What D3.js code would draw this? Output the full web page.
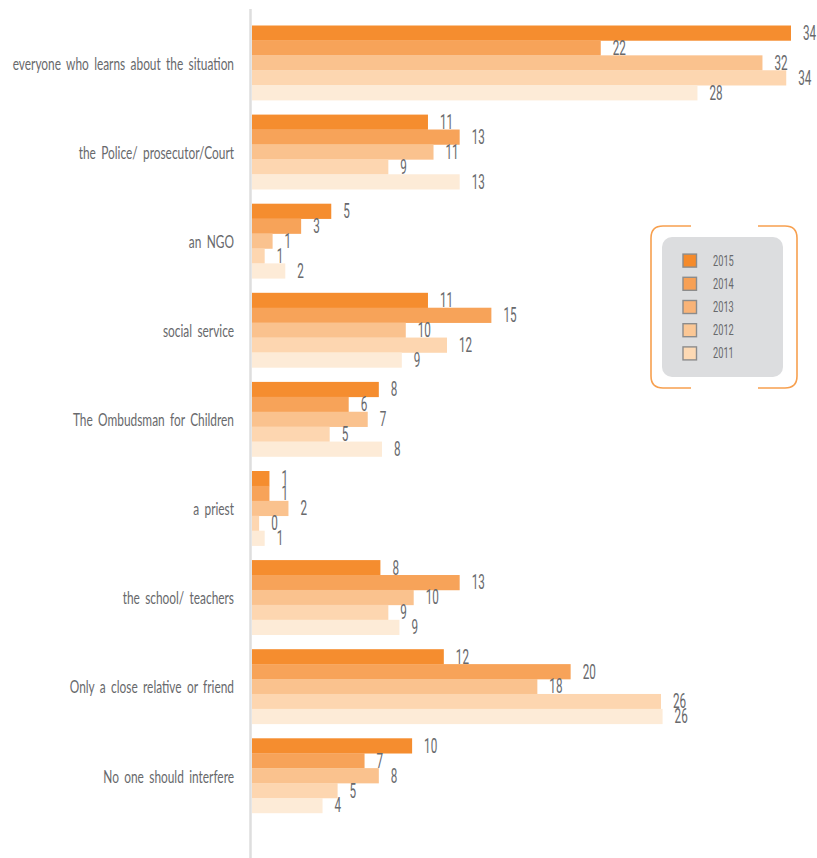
<!DOCTYPE html>
<html>
<head>
<meta charset="utf-8">
<script src="https://cdn.jsdelivr.net/npm/d3@7"></script>
<style>
  html, body { margin: 0; padding: 0; background: #fff; }
  svg { display: block; }
</style>
</head>
<body>
<svg id="chart" width="817" height="858"></svg>
<script>
const categories = [
  "everyone who learns about the situation",
  "the Police/ prosecutor/Court",
  "an NGO",
  "social service",
  "The Ombudsman for Children",
  "a priest",
  "the school/ teachers",
  "Only a close relative or friend",
  "No one should interfere"
];
const years = ["2015", "2014", "2013", "2012", "2011"];
const values2015 = [34.0, 11.1, 5.0, 11.1, 8.0, 1.1, 8.1, 12.1, 10.1];
const values2014 = [22.0, 13.1, 3.1, 15.1, 6.1, 1.1, 13.1, 20.1, 7.1];
const values2013 = [32.2, 11.45, 1.3, 9.7, 7.3, 2.3, 10.2, 18.0, 8.0];
const values2012 = [33.7, 8.6, 0.8, 12.3, 4.9, 0.45, 8.6, 25.8, 5.4];
const values2011 = [28.1, 13.1, 2.1, 9.45, 8.2, 0.8, 9.3, 25.9, 4.45];
const seriesValues = [values2015, values2014, values2013, values2012, values2011];
const barColors = ["#f58d2f", "#f7a359", "#fac28e", "#fdd6b0", "#fdebd7"];
const legendColors = ["#f58a2a", "#f7a055", "#f9b377", "#fbc795", "#fdd9b4"];

const svg = d3.select("#chart");
const textColor = "#68696c";

const x = d3.scaleLinear().domain([0, 34]).range([252, 791]);
const y = d3.scaleBand().domain(categories).range([25.5, 812.9]).paddingInner(0.1627).paddingOuter(0);
const yInner = d3.scaleBand().domain(years).range([0, y.bandwidth()]).padding(0);
const color = d3.scaleOrdinal().domain(years).range(barColors);
const fmt = d3.format(".0f");

const rows = [];
categories.forEach((c, i) => {
  years.forEach((yr, j) => {
    rows.push({ cat: c, year: yr, value: seriesValues[j][i] });
  });
});

// bars
svg.append("g").selectAll("rect").data(rows).join("rect")
  .attr("x", x(0))
  .attr("y", d => y(d.cat) + yInner(d.year))
  .attr("width", d => x(d.value) - x(0))
  .attr("height", yInner.bandwidth() + 0.3)
  .attr("fill", d => color(d.year));

// axis line
svg.append("line")
  .attr("x1", 250.5).attr("x2", 250.5)
  .attr("y1", 9).attr("y2", 858)
  .attr("stroke", "#dedede").attr("stroke-width", 2.5);

// value labels
svg.append("g").selectAll("text").data(rows).join("text")
  .attr("transform", d => `translate(${x(d.value) + 12},${y(d.cat) + yInner(d.year) + yInner.bandwidth() / 2 + 7}) scale(0.6,1)`)
  .attr("font-family", "Roboto, 'Open Sans', sans-serif")
  .attr("font-size", 19.5)
  .attr("fill", textColor)
  .text(d => fmt(d.value));

// category labels
svg.append("g").selectAll("text").data(categories).join("text")
  .attr("transform", d => `translate(234,${y(d) + y.bandwidth() / 2 + 7}) scale(0.66,1)`)
  .attr("text-anchor", "end")
  .attr("font-family", "Lato, 'Open Sans', sans-serif")
  .attr("font-size", 18)
  .attr("word-spacing", 3.5)
  .attr("fill", textColor)
  .text(d => d);

// legend
const lg = svg.append("g");
const bx0 = 651, bx1 = 797, by0 = 226, by1 = 388, r = 12;
lg.append("path")
  .attr("d", `M691,${by0} H${bx0 + r} Q${bx0},${by0} ${bx0},${by0 + r} V${by1 - r} Q${bx0},${by1} ${bx0 + r},${by1} H691`)
  .attr("fill", "none").attr("stroke", "#f7a04f").attr("stroke-width", 1.6);
lg.append("path")
  .attr("d", `M758,${by0} H${bx1 - r} Q${bx1},${by0} ${bx1},${by0 + r} V${by1 - r} Q${bx1},${by1} ${bx1 - r},${by1} H758`)
  .attr("fill", "none").attr("stroke", "#f7a04f").attr("stroke-width", 1.6);
lg.append("rect")
  .attr("x", 662).attr("y", 237).attr("width", 121).attr("height", 140)
  .attr("rx", 10).attr("fill", "#dcdddf");
const ly = d3.scaleBand().domain(years).range([249, 365]);
const items = lg.selectAll("g.item").data(years).join("g").attr("class", "item")
  .attr("transform", d => `translate(0,${ly(d) + ly.bandwidth() / 2})`);
items.append("rect")
  .attr("x", 683).attr("y", -6.5).attr("width", 13.5).attr("height", 13)
  .attr("fill", (d, i) => legendColors[i])
  .attr("stroke", "#8c8c8c").attr("stroke-width", 1.4);
items.append("text")
  .attr("transform", "translate(713,5) scale(0.66,1)")
  .attr("font-family", "Roboto, 'Open Sans', sans-serif")
  .attr("font-size", 14)
  .attr("fill", textColor)
  .text(d => d);
</script>
</body>
</html>
